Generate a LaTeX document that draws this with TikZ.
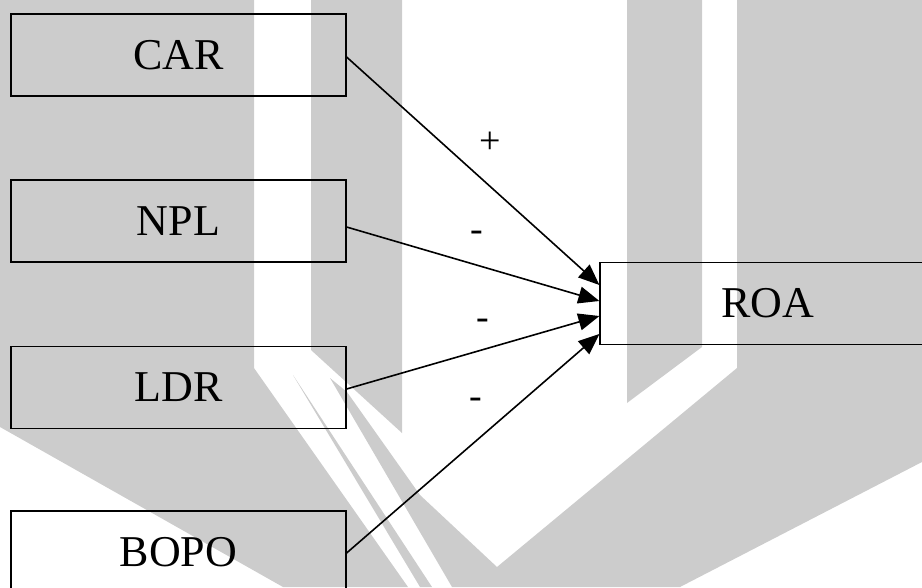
\documentclass[tikz,border=0pt]{standalone}
\usepackage{fontspec}
\setmainfont{Liberation Serif}
\usetikzlibrary{arrows.meta}
\definecolor{wmgrey}{HTML}{CCCCCC}

\begin{document}
\begin{tikzpicture}[
  x=1pt, y=-1pt,
  var/.style={rectangle, draw, line width=1.2pt, minimum width=335pt, minimum height=82pt,
    font=\fontsize{44}{50}\selectfont},
  sign/.style={font=\fontsize{38}{42}\selectfont},
  link/.style={-{Triangle[length=21pt, width=17pt]}, line width=1.6pt}
]
\useasboundingbox (0,0) rectangle (922,587);

% watermark behind the model
\fill[wmgrey] (0,0) -- (254,0) -- (254,368) -- (408,587) -- (283,587) -- (0,427) -- cycle;
\fill[wmgrey] (293,375) -- (432,587) -- (420,587) -- cycle;
\fill[wmgrey] (311,0) -- (402,0) -- (402,433) -- (311,350) -- cycle;
\fill[wmgrey] (627,0) -- (702,0) -- (702,347) -- (627,403) -- cycle;
\fill[wmgrey] (330,378) -- (347,392) -- (420,495) -- (497,567) -- (737,368) -- (737,0)
  -- (922,0) -- (922,462) -- (680,587) -- (452,587) -- cycle;

% variables
\node[var] (CAR)  at (178.5,55)  {CAR};
\node[var] (NPL)  at (178.5,221) {NPL};
\node[var] (LDR)  at (178.5,387.5) {LDR};
\node[var] (BOPO) at (178.5,552) {BOPO};
\node[var] (ROA)  at (767.5,303.5) {ROA};

% signs
\node[sign] (sCAR)  at (490,143) {+};
\node[sign] (sNPL)  at (477,236) {-};
\node[sign] (sLDR)  at (483,324) {-};
\node[sign] (sBOPO) at (476,403) {-};

% effects on ROA
\draw[link] ([yshift=-2pt]CAR.east) -- ([yshift=18.5pt]ROA.west);
\draw[link] ([yshift=-6pt]NPL.east) -- ([yshift=2.5pt]ROA.west);
\draw[link] ([yshift=-1.5pt]LDR.east) -- ([yshift=-12.5pt]ROA.west);
\draw[link] ([yshift=-1pt]BOPO.east) -- ([yshift=-30.5pt]ROA.west);
\end{tikzpicture}
\end{document}
